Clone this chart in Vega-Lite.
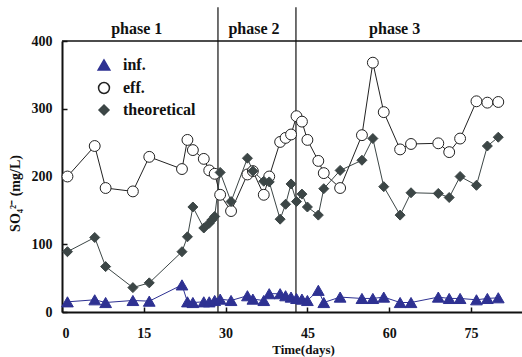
{
  "$schema": "https://vega.github.io/schema/vega-lite/v6.json",
  "width": 460,
  "height": 271,
  "autosize": {"type": "none"},
  "padding": {"left": 62, "top": 41, "right": 0, "bottom": 45},
  "config": {
    "view": {"stroke": null},
    "font": "Liberation Serif",
    "axis": {
      "grid": false,
      "domainColor": "#111111",
      "domainWidth": 2,
      "tickColor": "#111111",
      "tickWidth": 1.5,
      "tickSize": -5,
      "labelFont": "Liberation Serif",
      "labelFontSize": 14,
      "labelFontWeight": "bold",
      "labelColor": "#111111",
      "titleFont": "Liberation Serif",
      "titleFontSize": 13,
      "titleFontWeight": "bold",
      "titleColor": "#111111"
    },
    "legend": {
      "orient": "none",
      "legendX": 34,
      "legendY": 16,
      "padding": 0,
      "symbolSize": 121,
      "labelOffset": 11,
      "rowPadding": 5,
      "labelFont": "Liberation Serif",
      "labelFontSize": 16,
      "labelFontWeight": "bold",
      "labelColor": "#111111"
    }
  },
  "datasets": {
    "series": [
      {"d": 1, "v": 200, "s": "eff."}, {"d": 6, "v": 245, "s": "eff."}, {"d": 8, "v": 183, "s": "eff."}, {"d": 13, "v": 178, "s": "eff."}, {"d": 16, "v": 229, "s": "eff."}, {"d": 22, "v": 211, "s": "eff."}, {"d": 23, "v": 254, "s": "eff."}, {"d": 24, "v": 239, "s": "eff."}, {"d": 26, "v": 226, "s": "eff."}, {"d": 27, "v": 209, "s": "eff."}, {"d": 28, "v": 204, "s": "eff."}, {"d": 29, "v": 173, "s": "eff."}, {"d": 31, "v": 149, "s": "eff."}, {"d": 34, "v": 203, "s": "eff."}, {"d": 35, "v": 208, "s": "eff."}, {"d": 37, "v": 173, "s": "eff."}, {"d": 38, "v": 200, "s": "eff."}, {"d": 40, "v": 251, "s": "eff."}, {"d": 41, "v": 257, "s": "eff."}, {"d": 42, "v": 262, "s": "eff."}, {"d": 43, "v": 289, "s": "eff."}, {"d": 44, "v": 281, "s": "eff."}, {"d": 45, "v": 254, "s": "eff."}, {"d": 47, "v": 223, "s": "eff."}, {"d": 48, "v": 205, "s": "eff."}, {"d": 51, "v": 183, "s": "eff."}, {"d": 55, "v": 261, "s": "eff."}, {"d": 57, "v": 368, "s": "eff."}, {"d": 59, "v": 295, "s": "eff."}, {"d": 62, "v": 240, "s": "eff."}, {"d": 64, "v": 248, "s": "eff."}, {"d": 69, "v": 249, "s": "eff."}, {"d": 71, "v": 236, "s": "eff."}, {"d": 73, "v": 256, "s": "eff."}, {"d": 76, "v": 311, "s": "eff."}, {"d": 78, "v": 309, "s": "eff."}, {"d": 80, "v": 310, "s": "eff."},
      {"d": 1, "v": 89, "s": "theoretical"}, {"d": 6, "v": 110, "s": "theoretical"}, {"d": 8, "v": 67, "s": "theoretical"}, {"d": 13, "v": 36, "s": "theoretical"}, {"d": 16, "v": 43, "s": "theoretical"}, {"d": 22, "v": 89, "s": "theoretical"}, {"d": 23, "v": 111, "s": "theoretical"}, {"d": 24, "v": 155, "s": "theoretical"}, {"d": 26, "v": 124, "s": "theoretical"}, {"d": 27, "v": 131, "s": "theoretical"}, {"d": 27.5, "v": 136, "s": "theoretical"}, {"d": 28, "v": 141, "s": "theoretical"}, {"d": 29, "v": 206, "s": "theoretical"}, {"d": 31, "v": 163, "s": "theoretical"}, {"d": 34, "v": 227, "s": "theoretical"}, {"d": 35, "v": 208, "s": "theoretical"}, {"d": 37, "v": 193, "s": "theoretical"}, {"d": 38, "v": 192, "s": "theoretical"}, {"d": 40, "v": 137, "s": "theoretical"}, {"d": 41, "v": 159, "s": "theoretical"}, {"d": 42, "v": 189, "s": "theoretical"}, {"d": 43, "v": 163, "s": "theoretical"}, {"d": 44, "v": 174, "s": "theoretical"}, {"d": 45, "v": 155, "s": "theoretical"}, {"d": 47, "v": 143, "s": "theoretical"}, {"d": 48, "v": 182, "s": "theoretical"}, {"d": 51, "v": 209, "s": "theoretical"}, {"d": 55, "v": 224, "s": "theoretical"}, {"d": 57, "v": 256, "s": "theoretical"}, {"d": 59, "v": 185, "s": "theoretical"}, {"d": 62, "v": 143, "s": "theoretical"}, {"d": 64, "v": 176, "s": "theoretical"}, {"d": 69, "v": 175, "s": "theoretical"}, {"d": 71, "v": 169, "s": "theoretical"}, {"d": 73, "v": 200, "s": "theoretical"}, {"d": 76, "v": 187, "s": "theoretical"}, {"d": 78, "v": 245, "s": "theoretical"}, {"d": 80, "v": 258, "s": "theoretical"},
      {"d": 1, "v": 15, "s": "inf."}, {"d": 6, "v": 18, "s": "inf."}, {"d": 8, "v": 14, "s": "inf."}, {"d": 13, "v": 17, "s": "inf."}, {"d": 16, "v": 16, "s": "inf."}, {"d": 22, "v": 40, "s": "inf."}, {"d": 23, "v": 15, "s": "inf."}, {"d": 24, "v": 14, "s": "inf."}, {"d": 26, "v": 15, "s": "inf."}, {"d": 27, "v": 15, "s": "inf."}, {"d": 28, "v": 17, "s": "inf."}, {"d": 29, "v": 19, "s": "inf."}, {"d": 31, "v": 17, "s": "inf."}, {"d": 34, "v": 24, "s": "inf."}, {"d": 35, "v": 19, "s": "inf."}, {"d": 37, "v": 17, "s": "inf."}, {"d": 38, "v": 27, "s": "inf."}, {"d": 40, "v": 27, "s": "inf."}, {"d": 41, "v": 24, "s": "inf."}, {"d": 42, "v": 22, "s": "inf."}, {"d": 43, "v": 20, "s": "inf."}, {"d": 44, "v": 19, "s": "inf."}, {"d": 45, "v": 17, "s": "inf."}, {"d": 47, "v": 32, "s": "inf."}, {"d": 48, "v": 14, "s": "inf."}, {"d": 51, "v": 22, "s": "inf."}, {"d": 55, "v": 20, "s": "inf."}, {"d": 57, "v": 20, "s": "inf."}, {"d": 59, "v": 22, "s": "inf."}, {"d": 62, "v": 14, "s": "inf."}, {"d": 64, "v": 14, "s": "inf."}, {"d": 69, "v": 22, "s": "inf."}, {"d": 71, "v": 20, "s": "inf."}, {"d": 73, "v": 20, "s": "inf."}, {"d": 76, "v": 18, "s": "inf."}, {"d": 78, "v": 20, "s": "inf."}, {"d": 80, "v": 21, "s": "inf."}
    ],
    "phases": [{"d": 28.6}, {"d": 42.9}],
    "labels": [{"t": "phase 1", "d": 13.7}, {"t": "phase 2", "d": 35.2}, {"t": "phase 3", "d": 61}]
  },
  "layer": [
    {
      "data": {"name": "phases"},
      "mark": {"type": "rule", "color": "#111111", "strokeWidth": 1.2},
      "encoding": {
        "x": {"field": "d", "type": "quantitative"},
        "y": {"datum": 0},
        "y2": {"datum": 450}
      }
    },
    {
      "data": {"values": [{}]},
      "mark": {"type": "rule", "color": "#111111", "strokeWidth": 1.5},
      "encoding": {"y": {"datum": 400}}
    },
    {
      "data": {"name": "labels"},
      "mark": {"type": "text", "font": "Liberation Serif", "fontSize": 16, "fontWeight": "bold", "color": "#111111", "baseline": "middle", "align": "center"},
      "encoding": {
        "x": {"field": "d", "type": "quantitative"},
        "y": {"datum": 418},
        "text": {"field": "t"}
      }
    },
    {
      "data": {"name": "series"},
      "mark": {"type": "line", "strokeWidth": 1},
      "encoding": {
        "x": {
          "field": "d", "type": "quantitative",
          "scale": {"domain": [0, 84.35], "nice": false, "zero": false},
          "axis": {"values": [0, 15, 30, 45, 60, 75], "labelPadding": 19, "title": "Time(days)", "titleX": 241, "titleY": 37, "titleBaseline": "middle", "titleAlign": "center"}
        },
        "y": {
          "field": "v", "type": "quantitative",
          "scale": {"domain": [0, 400], "nice": false},
          "axis": {"values": [0, 50, 100, 150, 200, 250, 300, 350, 400], "labelPadding": 15, "title": "SO₄²⁻ (mg/L)", "titleFontSize": 14, "titleX": -47, "titleY": 152, "titleAngle": -90, "titleBaseline": "middle", "titleAlign": "center"}
        },
        "stroke": {
          "field": "s", "type": "nominal",
          "scale": {"domain": ["inf.", "eff.", "theoretical"], "range": ["#2E3192", "#222222", "#3C4646"]}
        }
      }
    },
    {
      "data": {"name": "series"},
      "mark": {"type": "point", "filled": true, "strokeWidth": 1, "opacity": 1},
      "encoding": {
        "x": {"field": "d", "type": "quantitative"},
        "y": {"field": "v", "type": "quantitative"},
        "shape": {
          "field": "s", "type": "nominal",
          "scale": {"domain": ["inf.", "eff.", "theoretical"], "range": ["triangle-up", "circle", "diamond"]},
          "legend": {"title": null}
        },
        "fill": {
          "field": "s", "type": "nominal",
          "scale": {"domain": ["inf.", "eff.", "theoretical"], "range": ["#2E3192", "#ffffff", "#3C4646"]}
        },
        "stroke": {
          "field": "s", "type": "nominal"
        },
        "size": {
          "field": "s", "type": "nominal",
          "scale": {"domain": ["inf.", "eff.", "theoretical"], "range": [137, 100, 130]}
        }
      }
    }
  ]
}
